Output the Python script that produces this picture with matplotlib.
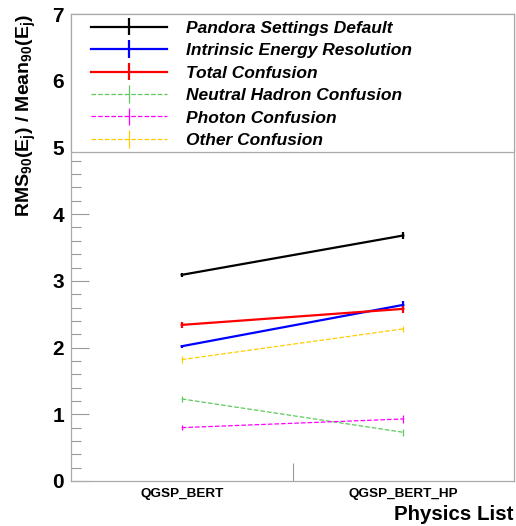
import matplotlib
matplotlib.use("Agg")
import matplotlib.pyplot as plt
from matplotlib.patches import Rectangle
from matplotlib.ticker import MultipleLocator

plt.rcParams["font.family"] = ["Liberation Sans", "DejaVu Sans"]
plt.rcParams["mathtext.fontset"] = "custom"
plt.rcParams["mathtext.rm"] = "Liberation Sans:bold"
plt.rcParams["mathtext.it"] = "Liberation Sans:bold"
plt.rcParams["mathtext.bf"] = "Liberation Sans:bold"

# data
physics_lists = ["QGSP_BERT", "QGSP_BERT_HP"]
x_pos = [0.5, 1.5]

labels = ["Pandora Settings Default", "Intrinsic Energy Resolution", "Total Confusion",
          "Neutral Hadron Confusion", "Photon Confusion", "Other Confusion"]
values = [
    [3.09, 3.68],
    [2.02, 2.64],
    [2.34, 2.58],
    [1.23, 0.73],
    [0.80, 0.93],
    [1.82, 2.28],
]
errors = [
    [0.03, 0.05],
    [0.02, 0.06],
    [0.04, 0.06],
    [0.04, 0.05],
    [0.04, 0.06],
    [0.05, 0.05],
]
colors = ["black", "#0000ff", "#ff0000", "#5fc95f", "#ff00ff", "#ffcc00"]
styles = ["-", "-", "-", "--", "--", "--"]
widths = [1.6, 1.6, 1.6, 0.9, 0.9, 0.9]

fig = plt.figure(figsize=(5.16, 5.26), dpi=100)
ax = fig.add_axes([71 / 516, 45 / 526, 443 / 516, 467 / 526])

for vals, errs, lab, c, ls, lw in zip(values, errors, labels, colors, styles, widths):
    ax.errorbar(x_pos, vals, yerr=errs, color=c, ls=ls, lw=lw, elinewidth=lw,
                capsize=0, label=lab)

ax.set_xlim(0, 2)
ax.set_ylim(0, 7)

# y axis: integer labels, minor ticks every 0.2
ax.yaxis.set_major_locator(MultipleLocator(1))
ax.yaxis.set_minor_locator(MultipleLocator(0.2))
ax.tick_params(axis="y", which="major", direction="in", length=13, width=0.8,
               color="#999999", labelsize=15, pad=5)
ax.tick_params(axis="y", which="minor", direction="in", length=7, width=0.8, color="#999999")
for t in ax.get_yticklabels():
    t.set_fontweight("bold")

# x axis: one tick at the bin edge, category names at the bin centres
ax.set_xticks([1])
ax.set_xticklabels([""])
ax.set_xticks(x_pos, minor=True)
ax.set_xticklabels(physics_lists, minor=True, fontsize=9.7, fontweight="bold")
ax.tick_params(axis="x", which="major", direction="in", length=13, width=0.8, color="#999999")
ax.tick_params(axis="x", which="minor", length=0, pad=5)

for s in ax.spines.values():
    s.set_color("#aaaaaa")
    s.set_linewidth(0.9)

ax.set_ylabel(r"RMS$_{90}$(E$_{j}$) / Mean$_{90}$(E$_{j}$)",
              fontsize=14, fontweight="bold", loc="top")
ax.yaxis.set_label_coords(-0.075, 1.0)
ax.set_xlabel("Physics List", fontsize=14.8, fontweight="bold", loc="right", labelpad=4)

# legend box covering the top of the frame
ax.add_patch(Rectangle((0, 4.93), 2, 2.07, facecolor="white", edgecolor="#aaaaaa",
                       lw=0.9, zorder=4, transform=ax.transData, clip_on=False))
leg = ax.legend(loc="upper left", bbox_to_anchor=(13 / 443, 1.0), borderaxespad=0,
                frameon=False, prop={"size": 12.5, "weight": "bold", "style": "italic"},
                handlelength=4.4, handletextpad=1.09, labelspacing=0.42, borderpad=0.38)
leg.set_zorder(5)

fig.savefig("out.png", dpi=100)
